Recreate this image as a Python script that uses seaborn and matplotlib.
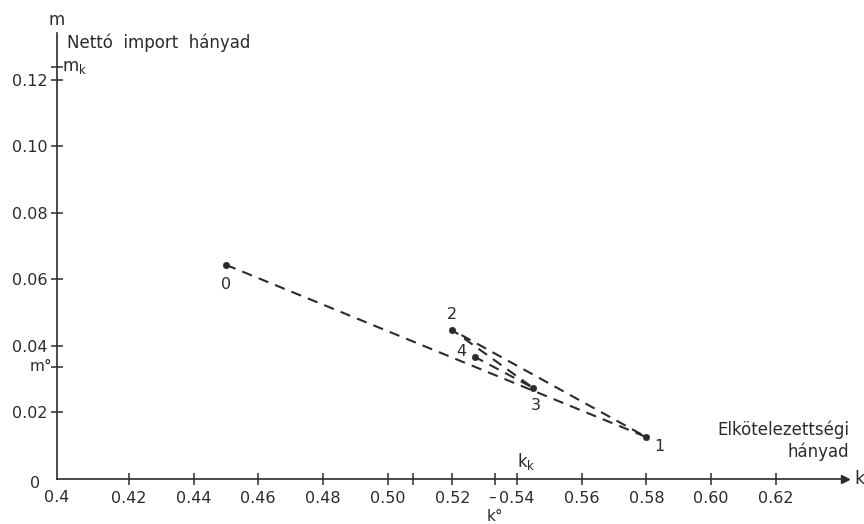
import matplotlib

matplotlib.use("Agg")

import matplotlib.pyplot as plt
import matplotlib.transforms as mtransforms
import pandas as pd
import seaborn as sns

# pontok: elkötelezettségi hányad (k) és nettó import hányad (m), bejárási sorrendben
point_labels = ["0", "1", "2", "3", "4"]
k_values = [0.450, 0.580, 0.520, 0.545, 0.527]
m_values = [0.0644, 0.0126, 0.0448, 0.0274, 0.0367]

x_ticks = [0.42, 0.44, 0.46, 0.48, 0.50, 0.52, 0.54, 0.56, 0.58, 0.60, 0.62]
x_ticklabels = ["0.42", "0.44", "0.46", "0.48", "0.50", "0.52", "0.54",
                "0.56", "0.58", "0.60", "0.62"]
y_ticks = [0.02, 0.04, 0.06, 0.08, 0.10, 0.12]
y_ticklabels = ["0.02", "0.04", "0.06", "0.08", "0.10", "0.12"]

k_zero = 0.5332   # k°
k_k = 0.54        # k_k
k_extra = 0.508
m_zero = 0.0337   # m°
m_k = 0.1239      # m_k

df = pd.DataFrame({"k": k_values, "m": m_values, "pont": point_labels})

sns.set_style("ticks")
plt.rcParams["font.family"] = ["DejaVu Sans"]
ink = "#2b2b2b"

fig = plt.figure(figsize=(8.64, 5.24), dpi=100)
fig.patch.set_facecolor("white")
ax = fig.add_axes([0.066, 0.0859, 0.912, 0.851])
ax.set_facecolor("white")

sns.lineplot(data=df, x="k", y="m", sort=False, estimator=None, ax=ax,
             color=ink, linestyle=(0, (5, 3.5)), linewidth=1.5)
sns.scatterplot(data=df, x="k", y="m", ax=ax, color=ink, s=22,
                edgecolor=ink, zorder=3)

offsets = {"0": (0, -14), "1": (9, -7), "2": (0, 11), "3": (2, -13), "4": (-10, 4)}
for _, row in df.iterrows():
    ax.annotate(row["pont"], (row["k"], row["m"]), xytext=offsets[row["pont"]],
                textcoords="offset points", ha="center", va="center",
                fontsize=11.5, color=ink)

ax.set_xlim(0.3978, 0.6414)
ax.set_ylim(0, 0.1341)
sns.despine(ax=ax)
for side in ["left", "bottom"]:
    ax.spines[side].set_color(ink)
    ax.spines[side].set_linewidth(1.2)

ax.set_xticks(x_ticks)
ax.set_xticklabels(x_ticklabels)
ax.set_yticks(y_ticks)
ax.set_yticklabels(y_ticklabels)
ax.set_xticks([k_extra, k_zero], minor=True)
ax.set_yticks([m_zero, m_k], minor=True)
ax.tick_params(which="both", direction="inout", length=9, width=1.1,
               color=ink, labelcolor=ink, labelsize=11.5)
ax.tick_params(axis="x", pad=4)
ax.tick_params(axis="y", pad=2)
ax.set_xlabel("")
ax.set_ylabel("")

# origó felirat a tengelyek sarkában
ax.text(-0.022, -0.01, "0", transform=ax.transAxes, ha="right", va="center",
        fontsize=11.5, color=ink)
ax.text(0.0, -0.042, "0.4", transform=ax.transAxes, ha="center", va="center",
        fontsize=11.5, color=ink)

# tengely nyilak
ax.plot(1, 0, marker=">", color=ink, markersize=6,
        transform=ax.get_yaxis_transform(), clip_on=False)
ax.plot(0, 1, marker="^", color=ink, markersize=6,
        transform=ax.get_xaxis_transform(), clip_on=False)

# tengelyfeliratok
ax.text(0, 1.029, "m", transform=ax.transAxes, ha="center", va="center",
        fontsize=12, color=ink)
ax.text(0.013, 0.978, "Nettó  import  hányad", transform=ax.transAxes,
        ha="left", va="center", fontsize=12, color=ink)
ax.text(1.012, 0, "k", transform=ax.transAxes, ha="left", va="center",
        fontsize=12.5, color=ink)
ax.text(1.005, 0.085, "Elkötelezettségi\nhányad", transform=ax.transAxes,
        ha="right", va="center", multialignment="right", fontsize=12,
        color=ink, linespacing=1.25)

# k°, k_k, m°, m_k jelölések
xtr = mtransforms.blended_transform_factory(ax.transData, ax.transAxes)
ytr = mtransforms.blended_transform_factory(ax.transAxes, ax.transData)
ax.text(k_zero - 0.001, -0.04, "–", transform=xtr, ha="center", va="center",
        fontsize=11, color=ink)
ax.text(k_zero, -0.085, "k°", transform=xtr, ha="center", va="center",
        fontsize=11, color=ink)
ax.text(k_k, 0.04, r"k$_\mathregular{k}$", transform=xtr, ha="left",
        va="center", fontsize=12, color=ink)
ax.text(-0.006, m_zero, "m°", transform=ytr, ha="right", va="center",
        fontsize=11, color=ink)
ax.text(0.006, m_k, r"m$_\mathregular{k}$", transform=ytr, ha="left",
        va="center", fontsize=12, color=ink)

fig.savefig("out.png", dpi=100)
plt.close(fig)
